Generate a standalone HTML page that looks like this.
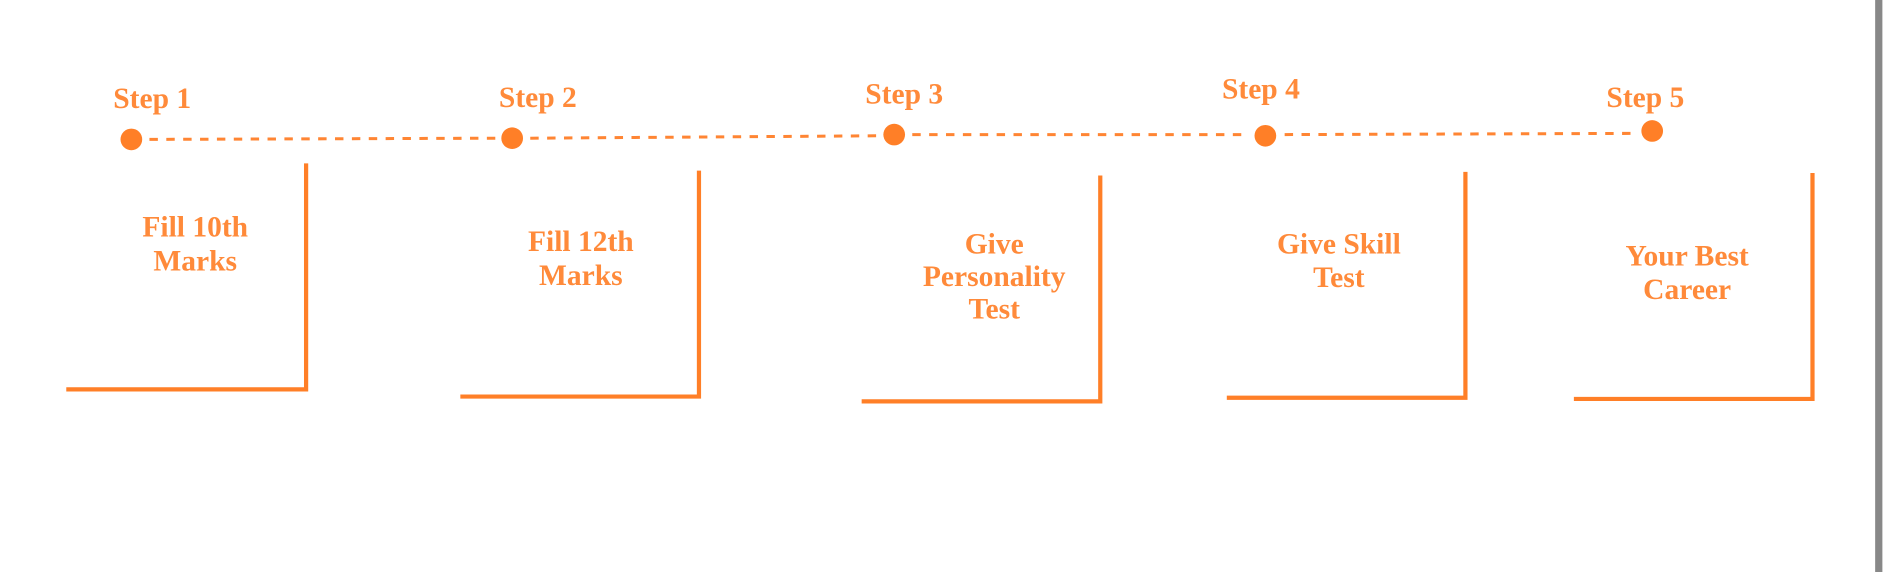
<!DOCTYPE html>
<html><head><meta charset="utf-8"><style>
html,body{margin:0;padding:0;background:#fff;width:1886px;height:572px;overflow:hidden}
svg{display:block}
text{font-family:"Liberation Serif",serif;font-weight:bold;fill:#FF8A3A;font-size:24.5px}
</style></head><body>
<svg width="1886" height="572" viewBox="0 0 1565 476" preserveAspectRatio="none">
<rect x="1556" y="0" width="6" height="476" fill="#888"/>
<g stroke="#FF8533" stroke-width="2.5" stroke-dasharray="7 7" fill="none">
<line x1="124" y1="116" x2="412" y2="115"/>
<line x1="440" y1="115" x2="728" y2="113"/>
<line x1="757" y1="112" x2="1036" y2="112"/>
<line x1="1066" y1="112" x2="1358" y2="111"/>
</g>
<g fill="#FF7F27">
<circle cx="109" cy="116" r="9"/>
<circle cx="425" cy="115" r="9"/>
<circle cx="742" cy="112" r="9"/>
<circle cx="1050" cy="113" r="9"/>
<circle cx="1371" cy="109" r="9"/>
</g>
<g>
<text x="94" y="90">Step 1</text>
<text x="414" y="89">Step 2</text>
<text x="718" y="86">Step 3</text>
<text x="1014" y="82">Step 4</text>
<text x="1333" y="89">Step 5</text>
</g>
<g stroke="#FF7F27" stroke-width="3.5" fill="none">
<polyline points="55,324 254,324 254,136"/>
<polyline points="382,330 580,330 580,142"/>
<polyline points="715,334 913,334 913,146"/>
<polyline points="1018,331 1216,331 1216,143"/>
<polyline points="1306,332 1504,332 1504,144"/>
</g>
<g text-anchor="middle">
<text x="162" y="197">Fill 10th</text>
<text x="162" y="225">Marks</text>
<text x="482" y="209">Fill 12th</text>
<text x="482" y="237">Marks</text>
<text x="825" y="211">Give</text>
<text x="825" y="238">Personality</text>
<text x="825" y="265">Test</text>
<text x="1111" y="211">Give Skill</text>
<text x="1111" y="239">Test</text>
<text x="1400" y="221">Your Best</text>
<text x="1400" y="249">Career</text>
</g>
</svg>
</body></html>
